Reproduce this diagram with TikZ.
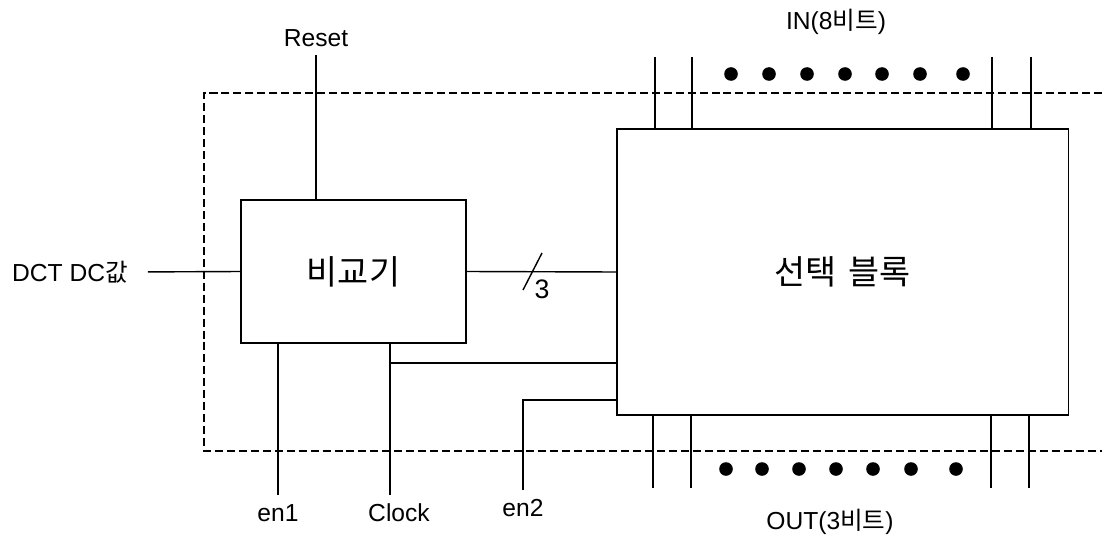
\documentclass[tikz,border=0pt]{standalone}
\usepackage{fontspec}
\setmainfont{Liberation Sans}
\newfontfamily\krfont{Noto Sans CJK KR}
\newcommand{\hangul}[1]{{\krfont #1}}
\usepackage{tikz}
\usetikzlibrary{positioning,calc}

\begin{document}
\begin{tikzpicture}[
    x=0.025cm,
    y=-0.025cm,
    lbl/.style={
        inner sep=0pt,
        font=\fontsize{17.5}{20}\selectfont
    },
    box/.style={
        draw=black,
        line width=0.8pt,
        inner sep=0pt,
        outer sep=0pt,
        align=center,
        font=\fontsize{24}{28}\selectfont\krfont
    },
    wire/.style={line width=1pt},
    frame/.style={line width=1.3pt, dash pattern=on 5.7pt off 2.8pt}
]
\useasboundingbox (0,0) rectangle (1102,538);

% blocks
\node[box, minimum width=5.625cm, minimum height=3.575cm] (cmp) at (353.5,271.5) {비교기};
\node[box, minimum width=11.275cm, minimum height=7.15cm] (sel) at (842.5,272) {선택\hspace{0.15em} 블록};

% dashed boundary
\draw[frame] (1102,93) -- (204,93) -- (204,451) -- (1102,451);

% labels
\node[lbl] (reset) at (316,38) {Reset};
\node[lbl] (dct) at (70,272) {DCT DC\hangul{값}};
\node[lbl] (en1) at (278,513) {en1};
\node[lbl] (clk) at (399,513) {Clock};
\node[lbl] (en2) at (523,508) {en2};
\node[lbl] (in) at (836,22) {IN(8\hangul{비트})};
\node[lbl] (out) at (830,522) {OUT(3\hangul{비트})};
\node[lbl, font=\fontsize{19}{22}\selectfont] (bw) at (542,289) {3};

% free ends
\coordinate (resetend) at (316,55);
\coordinate (en1end) at (278,495);
\coordinate (clkend) at (390,495);
\coordinate (clkbr) at (390,363);
\coordinate (en2end) at (523,490);
\coordinate (en2br) at (523,400);

% comparator connections
\draw[wire] (resetend) -- (resetend |- cmp.north);
\draw[wire, shorten <=14\pgflinewidth] (dct.east) -- (cmp.west);
\draw[wire] (en1end) -- (en1end |- cmp.south);
\draw[wire] (clkend) -- (clkend |- cmp.south);
\draw[wire] (clkbr) -- (clkbr -| sel.west);
\draw[wire] (en2end) -- (en2br) -- (en2br -| sel.west);

% 3-bit bus
\draw[wire] (cmp.east) -- (sel.west);
\draw[wire] (532,272) ++(-9,18) -- ++(19,-37);

% input / output pins
\foreach \x in {655,692,992,1031}
    \draw[wire] (\x,57) -- (\x,0 |- sel.north);
\foreach \x in {653,691,991,1029}
    \draw[wire] (\x,0 |- sel.south) -- (\x,488);
\foreach \x in {731,769,807,845,882,920,963}
    \fill (\x,74) circle (1.7mm);
\foreach \x in {726,762,799,836,873,911,956}
    \fill (\x,469) circle (1.7mm);

\end{tikzpicture}
\end{document}
